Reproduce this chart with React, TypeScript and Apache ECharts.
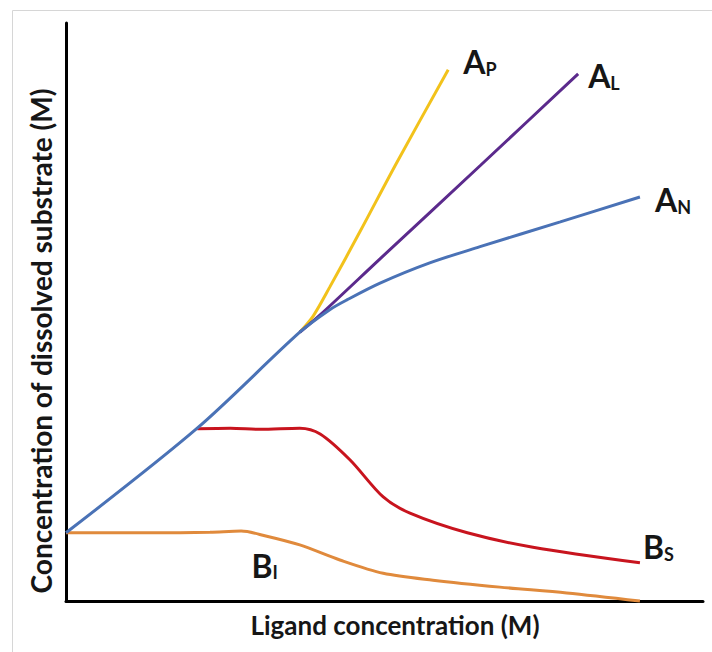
import React, { useEffect, useRef } from "react";
import * as echarts from "echarts";

// Curve A_N (blue) – also the common initial rising segment
const anX = [0, 20.6, 36.7, 41.4, 44.1, 49.3, 57.1, 65.0, 77.6, 90.1];
const anY = [11.8, 29.9, 46.5, 50.4, 52.1, 55.0, 58.5, 61.3, 65.6, 69.9];
// Curve A_P (yellow)
const apX = [36.7, 38.8, 41.4, 46.2, 52.0, 60.0];
const apY = [46.5, 49.3, 54.3, 64.0, 76.0, 91.9];
// Curve A_L (purple)
const alX = [36.7, 39.9, 49.3, 65.0, 80.4];
const alY = [46.5, 49.5, 59.2, 75.3, 91.2];
// Curve B_S (red)
const bsX = [20.6, 25.8, 30.5, 36.7, 39.9, 44.6, 49.8, 54.0, 63.0, 73.3, 90.1];
const bsY = [29.8, 29.9, 29.7, 29.9, 28.9, 24.4, 18.0, 15.2, 11.8, 9.3, 6.6];
// Curve B_I (orange)
const biX = [0, 13.2, 22.6, 27.5, 31.2, 36.7, 43.0, 49.8, 57.6, 68.1, 78.6, 90.1];
const biY = [11.8, 11.8, 11.9, 12.1, 11.3, 9.7, 7.1, 4.8, 3.6, 2.4, 1.4, 0];

const labelAP = ["A", "P"];
const labelAL = ["A", "L"];
const labelAN = ["A", "N"];
const labelBS = ["B", "S"];
const labelBI = ["B", "I"];
const labelBIPos = [31.2, 6.2];

const xTitle = "Ligand concentration (M)";
const yTitle = "Concentration of dissolved substrate (M)";

const zip = (xs: number[], ys: number[]) => xs.map((x, i) => [x, ys[i]]);

const FONT = "Lato";
const rich = {
  m: { fontSize: 32, fontWeight: "bold", fontFamily: FONT, color: "#161616", lineHeight: 32, verticalAlign: "bottom" },
  s: { fontSize: 18, fontWeight: "bold", fontFamily: FONT, color: "#161616", lineHeight: 18, verticalAlign: "bottom" },
};
const fmt = (l: string[]) => `{m|${l[0]}}{s|${l[1]}}`;

const mkSeries = (name: string, xs: number[], ys: number[], color: string, lab: string[] | null, off: number[], z: number) => ({
  name,
  type: "line",
  data: zip(xs, ys),
  smooth: 0.3,
  showSymbol: false,
  symbol: "none",
  clip: false,
  z,
  lineStyle: { color, width: 3 },
  endLabel: lab
    ? { show: true, formatter: fmt(lab), rich, distance: 0, offset: off, align: "left" }
    : { show: false },
});

export default function App() {
  const ref = useRef<HTMLDivElement>(null);
  useEffect(() => {
    if (!ref.current) return;
    const chart = echarts.init(ref.current, undefined, { renderer: "svg" });
    const option: any = {
      animation: false,
      backgroundColor: "#ffffff",
      grid: { left: 66, right: 9, top: 23, bottom: 51 },
      xAxis: {
        type: "value", min: 0, max: 100,
        axisLine: { show: true, onZero: false, lineStyle: { color: "#000", width: 3 } },
        axisTick: { show: false }, axisLabel: { show: false }, splitLine: { show: false },
      },
      yAxis: {
        type: "value", min: 0, max: 100,
        axisLine: { show: true, onZero: false, lineStyle: { color: "#000", width: 3 } },
        axisTick: { show: false }, axisLabel: { show: false }, splitLine: { show: false },
      },
      graphic: [
        { type: "rect", left: 10, top: 8, shape: { width: 720, height: 700 }, style: { fill: "none", stroke: "#d6d6d6", lineWidth: 1 }, silent: true },
        { type: "text", x: 395, y: 625, style: { text: xTitle, fontFamily: FONT, fontWeight: "bold", fontSize: 26, fill: "#161616", textAlign: "center", textVerticalAlign: "middle" } },
        { type: "text", x: 41, y: 341, rotation: Math.PI / 2, style: { text: yTitle, fontFamily: FONT, fontWeight: "bold", fontSize: 28, fill: "#161616", textAlign: "center", textVerticalAlign: "middle" } },
      ],
      series: [
        mkSeries("AP", apX, apY, "#F2C21B", labelAP, [15, -8], 2),
        mkSeries("AL", alX, alY, "#5B2A8C", labelAL, [10, 2], 2),
        mkSeries("BS", bsX, bsY, "#C8141E", labelBS, [3, -16], 2),
        {
          ...mkSeries("BI", biX, biY, "#E08A3C", null, [0, 0], 2),
          markPoint: {
            symbol: "circle", symbolSize: 0, silent: true,
            data: [{ coord: labelBIPos }],
            label: { show: true, position: "inside", formatter: fmt(labelBI), rich },
          },
        },
        mkSeries("AN", anX, anY, "#4A72B6", labelAN, [15, 3], 3),
      ],
    };
    chart.setOption(option);
    return () => chart.dispose();
  }, []);
  return <div ref={ref} style={{ position: "fixed", left: 0, top: 0, width: 712, height: 652 }} />;
}
